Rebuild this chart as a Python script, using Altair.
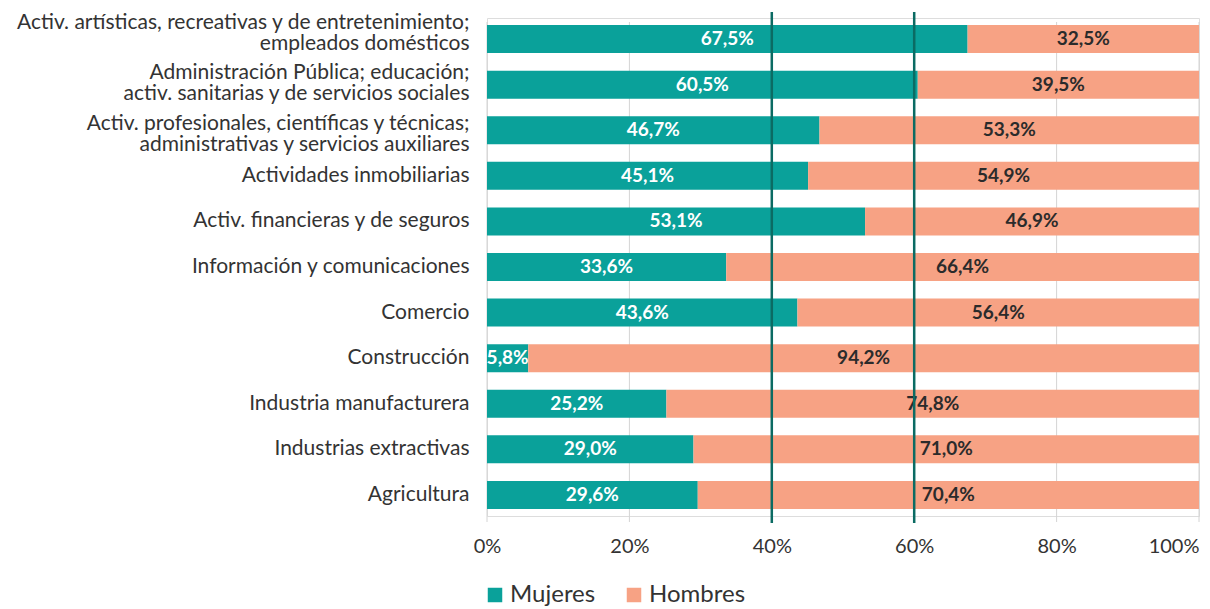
import altair as alt
import pandas as pd

categories = [
    "Activ. artísticas, recreativas y de entretenimiento;|empleados domésticos",
    "Administración Pública; educación;|activ. sanitarias y de servicios sociales",
    "Activ. profesionales, científicas y técnicas;|administrativas y servicios auxiliares",
    "Actividades inmobiliarias",
    "Activ. financieras y de seguros",
    "Información y comunicaciones",
    "Comercio",
    "Construcción",
    "Industria manufacturera",
    "Industrias extractivas",
    "Agricultura",
]
mujeres = [67.5, 60.5, 46.7, 45.1, 53.1, 33.6, 43.6, 5.8, 25.2, 29.0, 29.6]
hombres = [32.5, 39.5, 53.3, 54.9, 46.9, 66.4, 56.4, 94.2, 74.8, 71.0, 70.4]
series = ["Mujeres", "Hombres"]
colors = ["#0aa19a", "#f7a284"]
ref_lines = [0.4, 0.6]
grid_values = [0, 0.2, 0.4, 0.6, 0.8, 1.0]

rows = []
for c, m, h in zip(categories, mujeres, hombres):
    rows.append({"cat": c, "serie": "Mujeres", "v": m / 100, "ord": 0, "start": 0.0,
                 "lab": f"{m:.1f}%".replace(".", ",")})
    rows.append({"cat": c, "serie": "Hombres", "v": h / 100, "ord": 1, "start": m / 100,
                 "lab": f"{h:.1f}%".replace(".", ",")})
df = pd.DataFrame(rows)
df["end"] = df["start"] + df["v"]
df["mid"] = (df["start"] + df["end"]) / 2

FONT = "Lato"

label_offset_expr = (
    "indexof(datum.value, 'Activ. artísticas') == 0 ? -16 : "
    "indexof(datum.value, 'Administración') == 0 ? -12 : "
    "indexof(datum.value, 'Activ. profesionales') == 0 ? -6 : 0"
)

y_enc = alt.Y("cat:N", sort=categories, title=None,
              scale=alt.Scale(paddingInner=0.385, paddingOuter=0.155),
              axis=alt.Axis(labelExpr="split(datum.label, '|')", labelFontSize=21,
                            labelColor="#333333", labelPadding=18, ticks=False,
                            domain=False, labelLineHeight=21,
                            labelOffset=alt.ExprRef(label_offset_expr),
                            labelFont=FONT, labelLimit=600))

x_scale = alt.Scale(domain=[0, 1], nice=False)

grid = alt.Chart(pd.DataFrame({"g": grid_values})).mark_rule(
    color="#d4d4d4", strokeWidth=1).encode(
    x=alt.X("g:Q", scale=x_scale, title=None,
            axis=alt.Axis(format="%", values=grid_values, domain=False, grid=False,
                          ticks=False, labelPadding=20, labelFontSize=20,
                          labelColor="#333333", labelFont=FONT,
                          labelFlush=False,
                          labelAlign={"condition": {"test": "datum.value >= 1", "value": "right"},
                                      "value": "center"})),
    y=alt.value(4),
    y2=alt.value(504),
)

bars = alt.Chart(df).mark_bar(opacity=1).encode(
    x=alt.X("start:Q", scale=x_scale),
    x2="end:Q",
    y=y_enc,
    color=alt.Color("serie:N", scale=alt.Scale(domain=series, range=colors),
                    legend=alt.Legend(title=None, orient="none", legendX=-4, legendY=565,
                                      direction="horizontal", symbolType="square",
                                      symbolSize=210, labelFontSize=24, labelFont=FONT,
                                      labelColor="#333333", columnPadding=26,
                                      labelOffset=3,
                                      symbolStrokeWidth=0, symbolOpacity=1)),
    order="ord:Q",
)

text = alt.Chart(df).mark_text(fontSize=19, fontWeight="bold", font=FONT).encode(
    x=alt.X("mid:Q", scale=x_scale),
    y=alt.Y("cat:N", sort=categories),
    text="lab:N",
    color=alt.Color("serie:N", scale=alt.Scale(domain=series, range=["#ffffff", "#2b2b2b"]),
                    legend=None),
)

rules = alt.Chart(pd.DataFrame({"x": ref_lines})).mark_rule(
    color="#0b6b63", strokeWidth=2.5).encode(
    x=alt.X("x:Q", scale=x_scale),
    y=alt.value(-6),
    y2=alt.value(505),
)

chart = alt.layer(grid, bars, text, rules).resolve_scale(color="independent").properties(
    width=712, height=498,
    autosize=alt.AutoSizeParams(type="none"),
    padding={"left": 479, "top": 10, "right": 3, "bottom": 92},
).configure_view(stroke=None).configure(font=FONT)

chart.save("out.html", embed_options={"renderer": "svg", "actions": False})
